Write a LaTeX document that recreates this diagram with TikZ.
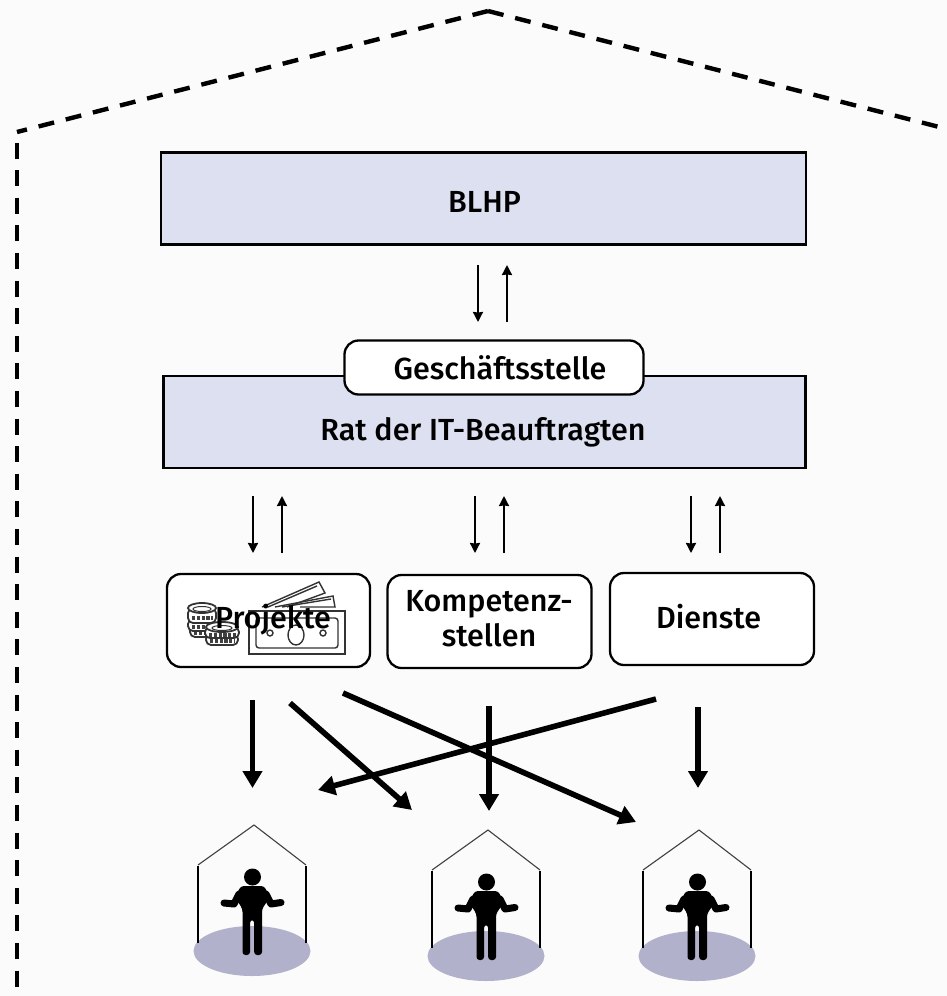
\documentclass[tikz,border=0pt]{standalone}
\usepackage{fontspec}
\setmainfont{Fira Sans}[UprightFont=* Medium]
\definecolor{bgc}{HTML}{FBFBFB}
\definecolor{boxc}{HTML}{DDE0F1}
\definecolor{floorc}{HTML}{B1B1CC}
\usetikzlibrary{arrows.meta}
\tikzset{
 bluebox/.style={draw=black,line width=2.3pt,fill=boxc,inner sep=0pt},
 whitebox/.style={draw=black,line width=2.3pt,fill=white,rounded corners=14pt,inner sep=0pt,align=center},
 lbl/.style={font=\fontsize{30.5}{35}\selectfont},
 thin arrow/.style={line width=2pt,-{Stealth[length=10pt,width=10pt,inset=0.5pt]}},
 thick arrow/.style={line width=5.6pt,-{Stealth[length=17pt,width=19pt,inset=0pt]}},
 border/.style={line width=4.4pt},
 icon/.style={line width=1.4pt,draw=black!80},
 coin/.style={fill=white,line width=1.8pt,rounded corners=5pt},
 teeth/.style={line width=3.2pt,dash pattern=on 3.2pt off 1.6pt,draw=black!75},
}
\newcommand{\persongroup}[1]{%
 \begin{scope}[shift={#1}]
  \fill[floorc] (0,0) ellipse (58.5pt and 25pt);
  \draw[line width=2pt,draw=black] (-54,-8) -- (-54,-85);
  \draw[line width=2pt,draw=black] (54,-8) -- (54,-85);
  \draw[line width=1.1pt,draw=black!75] (-54,-86) -- (2,-126) -- (54,-86);
  \fill (0.5,-74) circle (8.5pt);
  \fill[rounded corners=3pt] (-11,-65) -- (12,-65) -- (18,-54) -- (10,-42) -- (10,4) -- (2.2,4) -- (2.2,-31) -- (-2,-31) -- (-2,4) -- (-9.5,4) -- (-9.5,-42) -- (-17,-54) -- cycle;
  \draw[line width=7pt,line cap=round,line join=round] (-28,-48) -- (-18,-47) -- (-13,-57);
  \draw[line width=7pt,line cap=round,line join=round] (29,-48.5) -- (19,-47) -- (14,-57);
 \end{scope}}
\begin{document}
\begin{tikzpicture}[x=1pt,y=-1pt]
\useasboundingbox[fill=bgc] (0,0) rectangle (947,996);
\coordinate (bl) at (17,142.5);
\coordinate (be) at (17,996);
\coordinate (tl) at (17,132);
\coordinate (apex) at (488,11);
\coordinate (tr) at (947,129);
\draw[border,dash pattern=on 16pt off 11.6pt] (bl) -- (be);
\draw[border,dash pattern=on 16pt off 12pt] (apex) -- (tl);
\draw[border,dash pattern=on 16pt off 12pt] (apex) -- (tr);

\node[bluebox,minimum width=645pt,minimum height=92pt,lbl] (blhp) at (483.5,198.5) {};
\node[lbl] (blhpt) at (484.5,201.5) {BLHP};
\node[bluebox,minimum width=642pt,minimum height=92pt] (rat) at (484.5,422) {};
\node[lbl] (ratt) at (483,432.5) {Rat der IT-Beauftragten};
\node[whitebox,minimum width=299pt,minimum height=54pt,lbl] (gs) at (494,367.5) {\hspace*{12pt}Geschäftsstelle};

\node[whitebox,minimum width=203pt,minimum height=93pt] (proj) at (268.5,620.5) {};
\node[whitebox,minimum width=204pt,minimum height=93pt] (komp) at (489.5,621.5) {};
\node[lbl,align=center] (kompt) at (489,619) {Kompetenz-\\stellen};
\node[whitebox,minimum width=204pt,minimum height=92pt,lbl] (dienste) at (712,619) {};
\node[lbl] (dienstet) at (708.5,616.5) {Dienste};

% money icon
\begin{scope}[icon]
 \draw (249,611) rectangle (345,654);
 \draw[rounded corners=3pt] (256,618) rectangle (338,648);
 \draw (296,635) ellipse (8pt and 10pt);
 \draw (270,633) circle (3pt) (323,633) circle (3pt);
 \draw (262,607) -- (319,582) -- (325,593) -- (287,607);
 \draw (268,607) -- (317,586);
 \draw (275,607) -- (333,596) -- (335,607) -- (300,607);
 \draw (282,607) -- (331,599);
 \draw[coin] (190,626) rectangle (218,637);
 \draw[teeth] (194,633) -- (215,633);
 \draw[coin] (188,619) rectangle (215,631);
 \draw[teeth] (192,627) -- (212,627);
 \draw[coin] (188,608) rectangle (216,623);
 \draw[teeth] (192,618) -- (213,618);
 \draw[fill=white,line width=1.8pt] (202,608) ellipse (14pt and 5pt);
 \draw[line width=1pt] (202,609) ellipse (9pt and 2.5pt);
 \draw[coin] (206,634) rectangle (238,645);
 \draw[teeth] (210,641) -- (235,641);
 \draw[coin] (205,627) rectangle (239,638);
 \draw[teeth] (209,635) -- (236,635);
 \draw[fill=white,line width=1.8pt] (222,627) ellipse (16pt and 5pt);
 \draw[line width=1pt] (222,628) ellipse (10pt and 2.5pt);
\end{scope}
\node[lbl] (projt) at (273,620) {Projekte};

% thin arrows
\coordinate (a1s) at (478,265); \coordinate (a1e) at (478,322);
\coordinate (a2s) at (507,322); \coordinate (a2e) at (507,265);
\draw[thin arrow] (a1s) -- (a1e);
\draw[thin arrow] (a2s) -- (a2e);
\coordinate (b1s) at (253,496); \coordinate (b1e) at (253,553);
\coordinate (b2s) at (282,553); \coordinate (b2e) at (282,496);
\draw[thin arrow] (b1s) -- (b1e);
\draw[thin arrow] (b2s) -- (b2e);
\coordinate (c1s) at (475,496); \coordinate (c1e) at (475,553);
\coordinate (c2s) at (504,553); \coordinate (c2e) at (504,496);
\draw[thin arrow] (c1s) -- (c1e);
\draw[thin arrow] (c2s) -- (c2e);
\coordinate (d1s) at (691,496); \coordinate (d1e) at (691,553);
\coordinate (d2s) at (720,553); \coordinate (d2e) at (720,496);
\draw[thin arrow] (d1s) -- (d1e);
\draw[thin arrow] (d2s) -- (d2e);

% thick arrows
\coordinate (e1s) at (252.5,700); \coordinate (e1e) at (252.5,788);
\coordinate (e2s) at (290,703); \coordinate (e2e) at (412,810);
\coordinate (e3s) at (343,693); \coordinate (e3e) at (636,822);
\coordinate (e4s) at (656,699); \coordinate (e4e) at (318,790);
\coordinate (e5s) at (489,706); \coordinate (e5e) at (489,811);
\coordinate (e6s) at (698,707); \coordinate (e6e) at (698,788);
\foreach \s/\e in {e1s/e1e,e2s/e2e,e3s/e3e,e4s/e4e,e5s/e5e,e6s/e6e}
 \draw[thick arrow] (\s) -- (\e);

\persongroup{(252,951)}
\persongroup{(486,956)}
\persongroup{(697,956)}
\end{tikzpicture}
\end{document}
